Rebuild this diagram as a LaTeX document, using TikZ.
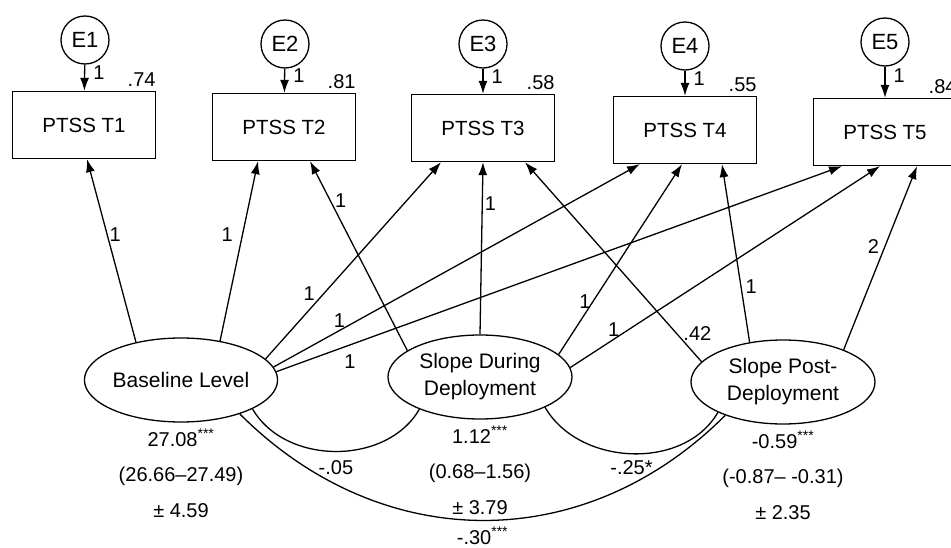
\documentclass[tikz,border=0pt]{standalone}
\usepackage{fontspec}
\setmainfont{Liberation Sans}
\usetikzlibrary{arrows.meta, shapes.geometric, positioning}

\begin{document}
\begin{tikzpicture}[
  x=1pt, y=1pt,
  line width=1.3pt,
  obs/.style = {
    rectangle, draw,
    minimum width=143pt, minimum height=67pt,
    inner sep=0pt, font=\fontsize{20.5}{24}\selectfont
  },
  err/.style = {
    circle, draw, minimum size=48pt,
    inner sep=0pt, font=\fontsize{22}{26}\selectfont
  },
  lat/.style = {
    ellipse, draw,
    minimum width=184pt, minimum height=84pt,
    inner sep=0pt, align=center,
    font=\fontsize{21}{27}\selectfont
  },
  stats/.style = {align=center, inner sep=0pt, font=\fontsize{20}{35.5}\selectfont},
  lbl/.style = {inner sep=2pt, font=\fontsize{20}{24}\selectfont},
  arr/.style = {-{Latex[length=13pt, width=9pt]}}
]
\useasboundingbox (0,0) rectangle (951,-548);

% Error terms
\node[err] (e1) at (85,-40)  {E1};
\node[err] (e2) at (285,-44) {E2};
\node[err] (e3) at (483,-44) {E3};
\node[err] (e4) at (685,-46) {E4};
\node[err] (e5) at (885,-42) {E5};

% Observed PTSS scores
\node[obs] (t1) at (84,-125)  {PTSS T1};
\node[obs] (t2) at (284,-127) {PTSS T2};
\node[obs] (t3) at (483,-128) {PTSS T3};
\node[obs] (t4) at (685,-130) {PTSS T4};
\node[obs] (t5) at (885,-132) {PTSS T5};

% R-squared
\node[lbl, anchor=south east, xshift=2pt, yshift=2pt] (r1) at (t1.north east) {.74};
\node[lbl, anchor=south east, xshift=2pt, yshift=2pt] (r2) at (t2.north east) {.81};
\node[lbl, anchor=south east, xshift=2pt, yshift=2pt] (r3) at (t3.north east) {.58};
\node[lbl, anchor=south east, xshift=2pt, yshift=2pt] (r4) at (t4.north east) {.55};
\node[lbl, anchor=south east, xshift=2pt, yshift=2pt] (r5) at (t5.north east) {.84};

% Error arrows
\draw[arr] (e1) -- node[lbl, pos=.3, right=6pt] {1} (t1);
\draw[arr] (e2) -- node[lbl, pos=.3, right=6pt] {1} (t2);
\draw[arr] (e3) -- node[lbl, pos=.3, right=6pt] {1} (t3);
\draw[arr] (e4) -- node[lbl, pos=.3, right=6pt] {1} (t4);
\draw[arr] (e5) -- node[lbl, pos=.3, right=6pt] {1} (t5);

% Latent growth factors
\node[lat] (base) at (181,-380) {Baseline Level};
\node[lat] (dur)  at (480,-377) {Slope During\\Deployment};
\node[lat] (post) at (783,-382) {Slope Post-\\Deployment};

% Means, CIs, SDs
\node[stats, below=6pt of base] (basestat) {27.08\textsuperscript{***}\\(26.66–27.49)\\± 4.59};
\node[stats, below=6pt of dur]  (durstat)  {1.12\textsuperscript{***}\\(0.68–1.56)\\± 3.79};
\node[stats, below=6pt of post] (poststat) {-0.59\textsuperscript{***}\\(-0.87– -0.31)\\± 2.35};

% Baseline loadings
\draw[arr] (base.140) -- node[lbl, pos=.59, right] {1} ([xshift=3pt]t1.south);
\draw[arr] (base.45)  -- node[lbl, pos=.59, left=7pt] {1} ([xshift=-26pt]t2.south);
\draw[arr] (base.14)  -- node[lbl, pos=.33, left=6pt] {1} ([xshift=-42pt]t3.south);
\draw[arr] (base.8)   -- node[lbl, pos=.18, above] {1} ([xshift=-45pt]t4.south);
\draw[arr] (base.5)   -- node[lbl, pos=.13, below=7pt] {1} ([xshift=-43pt]t5.south);

% Slope during deployment loadings
\draw[arr] (dur.160)  -- node[lbl, pos=.79, right=2pt] {1} ([xshift=26pt]t2.south);
\draw[arr] (dur.north) -- node[lbl, pos=.76, right] {1} (t3.south);
\draw[arr] (dur.16)   -- node[lbl, pos=.28, left] {1} ([xshift=-3pt]t4.south);
\draw[arr] (dur.6)    -- node[lbl, pos=.14, above] {1} ([xshift=-5pt]t5.south);

% Slope post-deployment loadings
\draw[arr] (post.166) -- node[lbl, pos=.14, right=4pt] {.42} ([xshift=42pt]t3.south);
\draw[arr] (post.130) -- node[lbl, pos=.31, right=2pt] {1} ([xshift=37pt]t4.south);
\draw[arr] (post.28)  -- node[lbl, pos=.56, left=3pt] {2} ([xshift=32pt]t5.south);

% Covariances
\draw (base.-22) to[out=-60, in=-120] node[lbl, below=6pt] {-.05} (dur.-152);
\draw (dur.-25)  to[out=-60, in=-120] node[lbl, below=4pt] {-.25*} (post.-155);
\draw (base.-30) to[out=-45, in=-135, looseness=1.05] node[lbl, below=4pt] {-.30\textsuperscript{***}} (post.-150);
\end{tikzpicture}
\end{document}
